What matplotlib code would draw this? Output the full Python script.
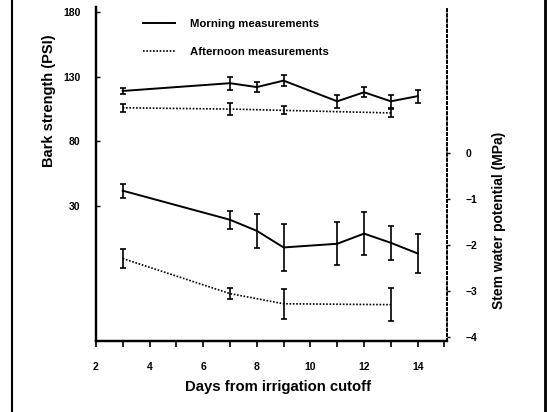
import numpy as np
import matplotlib
matplotlib.use("Agg")
import matplotlib.pyplot as plt
from matplotlib.lines import Line2D

plt.rcParams['font.family'] = ['Liberation Sans', 'DejaVu Sans']
plt.rcParams['font.weight'] = 'bold'
plt.rcParams['axes.labelweight'] = 'bold'

# bark strength (PSI), left axis
am_days = [3, 7, 8, 9, 11, 12, 13, 14]
am_bark = [119, 125, 122, 127, 111, 118, 111, 115]
am_bark_err = [2.5, 5, 4, 4, 5, 4, 5, 5]

pm_days = [3, 7, 9, 13]
pm_bark = [106, 105, 104, 102]
pm_bark_err = [3, 4.5, 3, 3]

# stem water potential (MPa), right axis
am_swp = [-0.82, -1.45, -1.69, -2.05, -1.97, -1.75, -1.95, -2.18]
am_swp_err = [0.15, 0.2, 0.37, 0.5, 0.47, 0.47, 0.37, 0.42]

pm_swp = [-2.29, -3.05, -3.27, -3.29]
pm_swp_err = [0.2, 0.12, 0.33, 0.36]

fig = plt.figure(figsize=(5.48, 4.12), dpi=100)
ax = fig.add_axes([0.175, 0.172, 0.641, 0.811])
ax2 = ax.twinx()

ek = dict(color='black', capsize=2, elinewidth=1.2, capthick=1.2)
ax.errorbar(am_days, am_bark, yerr=am_bark_err, ls='-', lw=1.4, **ek)
ax.errorbar(pm_days, pm_bark, yerr=pm_bark_err, ls=(0, (1, 1)), lw=1.2, **ek)
ax2.errorbar(am_days, am_swp, yerr=am_swp_err, ls='-', lw=1.4, **ek)
ax2.errorbar(pm_days, pm_swp, yerr=pm_swp_err, ls=(0, (1, 1)), lw=1.2, **ek)

ax.set_xlim(2, 15.1)
ax.set_ylim(-74.4, 183.9)
ax2.set_ylim(-4.08, 3.16)

ax.set_xticks([2, 4, 6, 8, 10, 12, 14])
ax.set_xticks(np.arange(2, 16, 1), minor=True)
ax.set_yticks([30, 80, 130, 180])
ax2.set_yticks([0, -1, -2, -3, -4])

ax.tick_params(axis='x', direction='out', length=4, width=1.2, labelsize=7.5, pad=11)
ax.tick_params(axis='x', which='minor', direction='out', length=4, width=1.2)
ax.tick_params(axis='y', direction='in', length=3, width=1, labelsize=7.5, pad=11)
ax2.tick_params(axis='y', direction='out', length=2, width=1, labelsize=7.5, pad=11)

for a in (ax, ax2):
    a.spines['top'].set_visible(False)
    a.spines['left'].set_linewidth(1.6)
    a.spines['bottom'].set_linewidth(1.6)
    a.spines['right'].set_linestyle(':')
    a.spines['right'].set_linewidth(1.4)

ax.set_xlabel('Days from irrigation cutoff', fontsize=10.7)
ax.xaxis.set_label_coords(0.518, -0.115)
ax.set_ylabel('Bark strength (PSI)', fontsize=10.5)
ax.yaxis.set_label_coords(-0.115, 0.72)
ax2.set_ylabel('Stem water potential (MPa)', fontsize=10)
ax2.yaxis.set_label_coords(1.127, 0.362)

handles = [Line2D([], [], color='black', lw=1.4, ls='-'),
           Line2D([], [], color='black', lw=1.2, ls=(0, (1, 1)))]
ax.legend(handles, ['Morning measurements', 'Afternoon measurements'],
          loc='upper left', bbox_to_anchor=(0.105, 0.995), frameon=False,
          fontsize=8.2, handlelength=2.8, labelspacing=1.6, handletextpad=1.3)

# scan border lines
fig.add_artist(Line2D([12/548, 12/548], [0, 1], color='black', lw=1.5))
fig.add_artist(Line2D([545/548, 545/548], [0, 1], color='black', lw=2))

fig.savefig('out.png', dpi=100)
